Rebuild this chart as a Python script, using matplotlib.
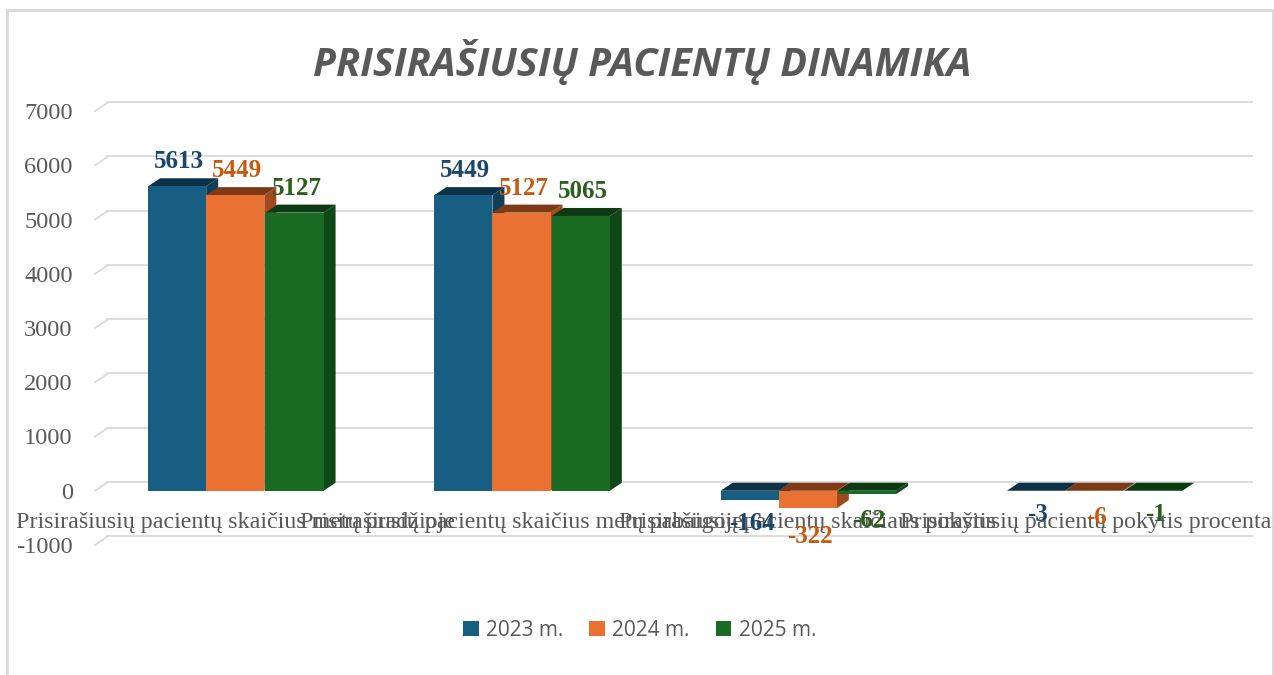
import matplotlib.pyplot as plt
from matplotlib.patches import Polygon, Rectangle
from matplotlib.transforms import offset_copy

categories = [
    "Prisirašiusių pacientų skaičius metų pradžioje",
    "Prisirašiusių pacientų skaičius metų pabaigoje",
    "Prisirašiusių pacientų skaičiaus pokytis",
    "Prisirašiusių pacientų pokytis procentais",
]
years = ["2023 m.", "2024 m.", "2025 m."]
v2023 = [5613, 5449, -164, -3]
v2024 = [5449, 5127, -322, -6]
v2025 = [5127, 5065, -62, -1]
series = [v2023, v2024, v2025]

front_cols = ["#175e82", "#e97132", "#196b24"]
top_cols = ["#0d3247", "#7e3a17", "#0d3a12"]
side_cols = ["#0f3e57", "#a2491c", "#0f4716"]
label_cols = ["#1b466c", "#c55a11", "#2a5e1d"]

W, H = 1274, 675
fig = plt.figure(figsize=(W / 100, H / 100), dpi=100)
ax = fig.add_axes([95 / W, 130 / H, 1145 / W, 434 / H])
ax.set_xlim(0, 4)
ax.set_ylim(-1000, 7000)
for s in ax.spines.values():
    s.set_visible(False)

# chart frame
fig.patches.append(Rectangle((7 / W, -0.01), 1266 / W, 1 - 10 / H + 0.01,
                             transform=fig.transFigure, fill=False,
                             edgecolor="#d9d9d9", linewidth=2))

# depth of the fake 3D in pixels -> data units
DX, DY = 12, 8
inv = ax.transData.inverted()
p0 = ax.transData.transform((0, 0))
ddx, ddy = inv.transform(p0 + [DX, DY])

# back wall gridlines with slanted left edge
ticks = list(range(-1000, 7001, 1000))
back = offset_copy(ax.transData, fig=fig, x=DX, y=DY + 1, units="dots")
for t in ticks:
    ax.plot([0, 4], [t, t], color="#d9d9d9", lw=1.3, transform=back,
            zorder=0, clip_on=False)
    ax.plot([0, ddx], [t, t + ddy], color="#d9d9d9", lw=1.3, zorder=0,
            clip_on=False)

ax.set_yticks(ticks)
ax.set_yticklabels([str(t) for t in ticks])
ax.tick_params(axis="y", length=0, pad=16, labelsize=17.6, labelcolor="#595959")
for lb in ax.get_yticklabels():
    lb.set_fontfamily("Liberation Serif")

# category labels under the floor
ax.spines["bottom"].set_position(("data", 0))
xc = [i + 0.49 for i in range(len(categories))]
ax.set_xticks(xc)
ax.set_xticklabels(categories, fontfamily="Liberation Serif", fontsize=17.3,
                   color="#595959")
ax.tick_params(axis="x", length=0, pad=15)

bw = 0.203
offs = [-bw, 0, bw + 0.004]
lab_dy = {5613: 25, 5449: 25, 5127: 24, 5065: 24, -164: -24, -322: -28,
          -62: -26, -3: -24, -6: -26, -1: -24}
z = 2
for i in range(len(categories)):
    for k, vals in enumerate(series):
        v = vals[i]
        x0 = xc[i] + offs[k] - bw / 2
        x1 = x0 + bw
        top = max(v, 0)
        bot = min(v, 0)
        side = Polygon([(x1, bot), (x1 + ddx, bot + ddy), (x1 + ddx, top + ddy), (x1, top)],
                       closed=True, facecolor=side_cols[k], edgecolor="none", zorder=z)
        lid = Polygon([(x0, top), (x1, top), (x1 + ddx, top + ddy), (x0 + ddx, top + ddy)],
                      closed=True, facecolor=top_cols[k], edgecolor="none", zorder=z)
        ax.add_patch(side)
        ax.add_patch(lid)
        ax.bar(x0, v, width=bw, align="edge", color=front_cols[k],
               label=years[k] if i == 0 else None, zorder=z + 1)
        z += 2
        ax.annotate(str(v), (x0 + bw / 2, v), xytext=(2, lab_dy.get(v, 24)),
                    textcoords="offset pixels", ha="center", va="center",
                    fontsize=18, fontweight="bold", fontfamily="Liberation Serif",
                    color=label_cols[k], zorder=50)

fig.text(0.504, 1 - 62 / H, "PRISIRAŠIUSIŲ PACIENTŲ DINAMIKA", ha="center", va="center",
         fontsize=28.5, fontweight="bold", fontstyle="italic", color="#595959",
         family=["Liberation Sans Narrow", "Open Sans"])

fig.legend(loc="center", bbox_to_anchor=(0.502, 1 - 630 / H), ncol=3, frameon=False,
           handlelength=0.75, handleheight=0.75, handletextpad=0.35, columnspacing=1.25,
           prop={"family": "Open Sans", "size": 15}, labelcolor="#595959")

plt.savefig("out.png", dpi=100)
